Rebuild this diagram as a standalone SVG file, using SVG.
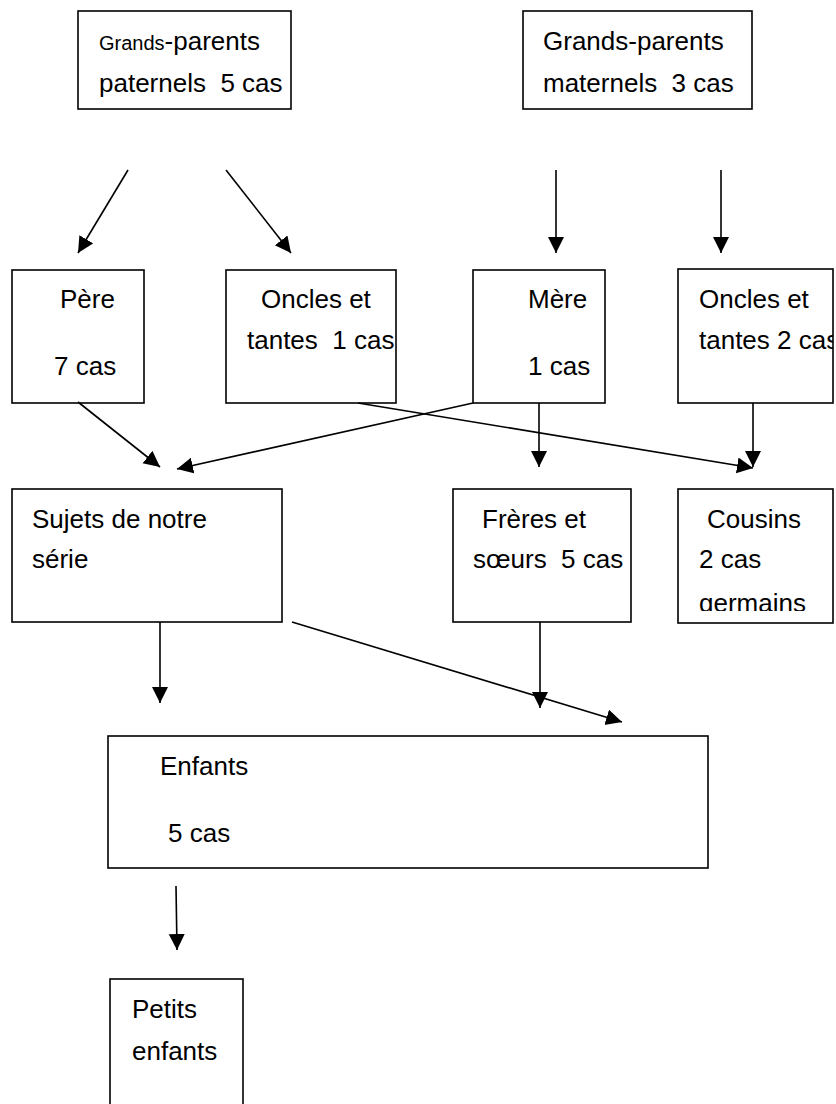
<svg xmlns="http://www.w3.org/2000/svg" width="836" height="1104" viewBox="0 0 836 1104">
<style>
.box{fill:#fff;stroke:#000;stroke-width:1.6}
.t{font-family:"Liberation Sans",Arial,sans-serif;font-size:26px;fill:#000;white-space:pre}
.s{font-size:20px}
.c{fill:none;stroke:#000;stroke-width:1.6}
</style>
<defs>
<marker id="ah" markerUnits="userSpaceOnUse" markerWidth="17" markerHeight="17" refX="16" refY="8" orient="auto" viewBox="0 0 17 17">
<path d="M0,0 L16,8 L0,16 z" fill="#000"/>
</marker>
<clipPath id="cpO1"><rect x="226" y="270" width="170" height="133"/></clipPath>
<clipPath id="cpO2"><rect x="678" y="269" width="155" height="134"/></clipPath>
<clipPath id="cpC"><rect x="678" y="489" width="155" height="122"/></clipPath>
</defs>

<g id="gp-paternels">
<rect class="box" x="78" y="11" width="213" height="98"/>
<text class="t" x="99" y="50" xml:space="preserve"><tspan class="s">Grands</tspan>-parents</text>
<text class="t" x="99" y="92" xml:space="preserve">paternels  5 cas</text>
</g>

<g id="gp-maternels">
<rect class="box" x="523" y="11" width="229" height="98"/>
<text class="t" x="543" y="50" xml:space="preserve">Grands-parents</text>
<text class="t" x="543" y="92" xml:space="preserve">maternels  3 cas</text>
</g>

<g id="pere">
<rect class="box" x="12" y="270" width="132" height="133"/>
<text class="t" x="60" y="308">Père</text>
<text class="t" x="54" y="375">7 cas</text>
</g>

<g id="oncles1">
<rect class="box" x="226" y="270" width="170" height="133"/>
<g clip-path="url(#cpO1)">
<text class="t" x="261" y="308">Oncles et</text>
<text class="t" x="247" y="349" xml:space="preserve">tantes  1 cas</text>
</g>
</g>

<g id="mere">
<rect class="box" x="473" y="270" width="132" height="133"/>
<text class="t" x="528" y="308">Mère</text>
<text class="t" x="528" y="375">1 cas</text>
</g>

<g id="oncles2">
<rect class="box" x="678" y="269" width="155" height="134"/>
<g clip-path="url(#cpO2)">
<text class="t" x="699" y="308">Oncles et</text>
<text class="t" x="699" y="349" xml:space="preserve">tantes 2 cas</text>
</g>
</g>

<g id="sujets">
<rect class="box" x="12" y="489" width="270" height="133"/>
<text class="t" x="32" y="528">Sujets de notre</text>
<text class="t" x="32" y="568">série</text>
</g>

<g id="freres">
<rect class="box" x="453" y="489" width="178" height="133"/>
<text class="t" x="482" y="528">Frères et</text>
<text class="t" x="473" y="568" xml:space="preserve">sœurs  5 cas</text>
</g>

<g id="cousins">
<rect class="box" x="678" y="489" width="155" height="134"/>
<g clip-path="url(#cpC)">
<text class="t" x="707" y="528">Cousins</text>
<text class="t" x="699" y="568">2 cas</text>
<text class="t" x="699" y="612">germains</text>
</g>
</g>

<g id="enfants">
<rect class="box" x="108" y="736" width="600" height="132"/>
<text class="t" x="160" y="775">Enfants</text>
<text class="t" x="168" y="842">5 cas</text>
</g>

<g id="petits-enfants">
<rect class="box" x="110" y="979" width="133" height="140"/>
<text class="t" x="132" y="1018">Petits</text>
<text class="t" x="132" y="1060">enfants</text>
</g>

<g id="connectors">
<line class="c" x1="128" y1="170" x2="78" y2="253" marker-end="url(#ah)"/>
<line class="c" x1="226" y1="170" x2="291" y2="253" marker-end="url(#ah)"/>
<line class="c" x1="556" y1="170" x2="556" y2="253" marker-end="url(#ah)"/>
<line class="c" x1="721" y1="170" x2="721" y2="253" marker-end="url(#ah)"/>
<line class="c" x1="78" y1="402" x2="160" y2="467" marker-end="url(#ah)"/>
<line class="c" x1="473" y1="403" x2="177" y2="469" marker-end="url(#ah)"/>
<line class="c" x1="358" y1="403" x2="753" y2="468" marker-end="url(#ah)"/>
<line class="c" x1="539" y1="403" x2="539" y2="467" marker-end="url(#ah)"/>
<line class="c" x1="753" y1="403" x2="753" y2="467" marker-end="url(#ah)"/>
<line class="c" x1="160" y1="622" x2="160" y2="703" marker-end="url(#ah)"/>
<line class="c" x1="292" y1="622" x2="622" y2="722" marker-end="url(#ah)"/>
<line class="c" x1="540" y1="622" x2="540" y2="708" marker-end="url(#ah)"/>
<line class="c" x1="176" y1="886" x2="177" y2="950" marker-end="url(#ah)"/>
</g>
</svg>
